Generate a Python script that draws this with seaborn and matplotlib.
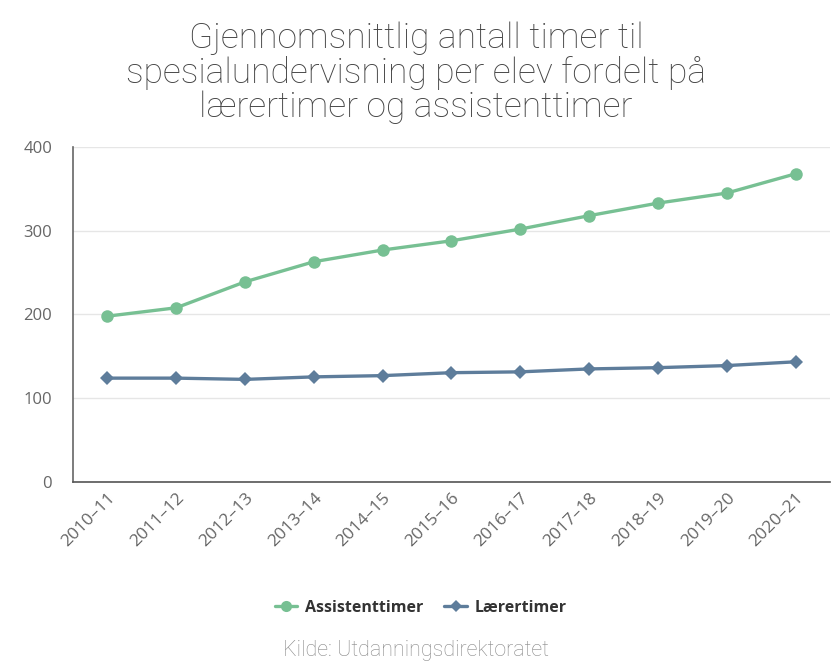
import matplotlib
matplotlib.use("Agg")
import matplotlib.pyplot as plt
import seaborn as sns
import pandas as pd
from matplotlib.lines import Line2D

categories = ["2010–11", "2011–12", "2012–13", "2013–14", "2014–15", "2015–16",
              "2016–17", "2017–18", "2018–19", "2019–20", "2020–21"]
assistenttimer = [198, 208, 239, 263, 277, 288, 302, 318, 333, 345, 368]
laerertimer = [124, 124, 122.5, 125.5, 127, 130.5, 131.5, 135, 136.5, 139, 143.5]
yticks = [0, 100, 200, 300, 400]

GREEN = "#77c093"
BLUE = "#5e7d9b"

sns.set_theme(style="white")
plt.rcParams["font.family"] = ["DejaVu Sans"]

fig = plt.figure(figsize=(8.32, 6.67), dpi=100)
ax = fig.add_axes([0.0877, 0.2774, 0.9099, 0.5022])

x = list(range(len(categories)))
df = pd.DataFrame({"x": x, "Assistenttimer": assistenttimer, "Lærertimer": laerertimer})

sns.lineplot(data=df, x="x", y="Assistenttimer", ax=ax, color=GREEN, lw=2.4,
             marker="o", markersize=9, markeredgewidth=0, zorder=3)
sns.lineplot(data=df, x="x", y="Lærertimer", ax=ax, color=BLUE, lw=2.4,
             marker="D", markersize=7, markeredgewidth=0, zorder=3)

ax.set_xlim(-0.5, len(categories) - 0.5)
ax.set_ylim(0, 400)
ax.set_yticks(yticks)
ax.set_yticklabels([str(v) for v in yticks], color="#666666", fontsize=12,
                   family=["Open Sans", "DejaVu Sans"])
ax.set_xticks(x)
ax.set_xticklabels(categories, rotation=45, ha="right", rotation_mode="anchor",
                   color="#666666", fontsize=12.5, family=["Open Sans", "DejaVu Sans"])
ax.tick_params(axis="y", length=0, pad=15)
ax.tick_params(axis="x", length=0, pad=6)
ax.set_xlabel("")
ax.set_ylabel("")
ax.grid(axis="y", color="#e6e6e6", lw=1)
ax.set_axisbelow(True)
for s in ["top", "right"]:
    ax.spines[s].set_visible(False)
ax.spines["left"].set_color("#666666")
ax.spines["left"].set_linewidth(1.2)
ax.spines["bottom"].set_color("#555555")
ax.spines["bottom"].set_linewidth(1.2)

fig.text(0.5, 0.968, "Gjennomsnittlig antall timer til\nspesialundervisning per elev fordelt på\nlærertimer og assistenttimer",
         ha="center", va="top", fontsize=25.5, color="#444444", family=["Roboto", "DejaVu Sans"],
         fontweight="light", linespacing=1.03)

handles = [Line2D([], [], color=GREEN, lw=2.4, marker="o", markersize=8, markeredgewidth=0),
           Line2D([], [], color=BLUE, lw=2.4, marker="D", markersize=6, markeredgewidth=0)]
fig.legend(handles, ["Assistenttimer", "Lærertimer"], loc="center", bbox_to_anchor=(0.506, 0.089),
           ncol=2, frameon=False, handlelength=1.4, columnspacing=1.3, handletextpad=0.5,
           labelcolor="#333333",
           prop={"family": ["Open Sans", "DejaVu Sans"], "weight": "bold", "size": 11.5})

fig.text(0.5, 0.024, "Kilde: Utdanningsdirektoratet", ha="center", va="center", fontsize=15.5,
         color="#888888", family=["Roboto", "DejaVu Sans"], fontweight="light")

fig.savefig("out.png", dpi=100, facecolor="white")
